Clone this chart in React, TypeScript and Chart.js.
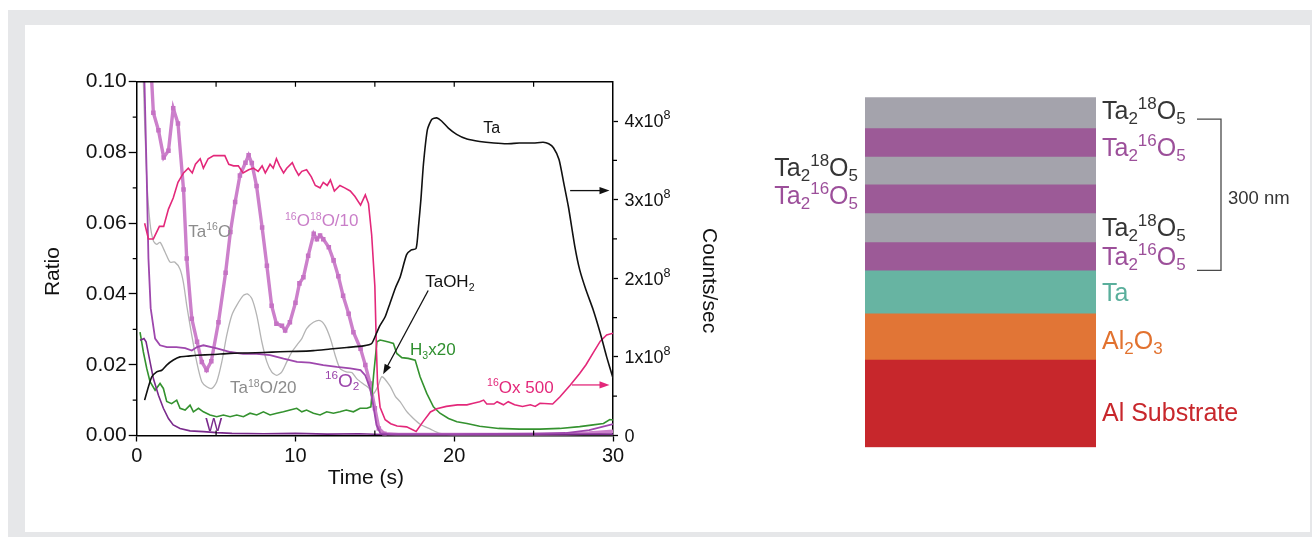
import { useEffect, useRef } from 'react';
import { Chart, registerables } from 'chart.js';

Chart.register(...registerables);

const FONT = "'Liberation Sans', Arial, Helvetica, sans-serif";

// ---------------- left chart data ----------------
// Ta (counts/sec, units of 1e8) - right axis
const taTime = [0.5, 0.74, 0.95, 1.26, 1.58, 1.89, 2.31, 2.73, 3.25, 3.78, 4.83, 5.88, 7, 7.98, 9.03, 10.08, 11.13, 12.18, 13.24, 14.29, 14.8, 15.1, 15.3, 15.65, 15.95, 16.3, 16.6, 17.0, 17.3, 17.6, 17.75, 17.9, 18.06, 18.31, 18.58, 18.9, 19.2, 19.63, 20.15, 20.8, 21.6, 22.5, 23.3, 24.1, 25.0, 25.6, 25.95, 26.25, 26.6, 26.9, 27.2, 27.6, 27.9, 28.3, 28.75, 29.2, 29.6, 30];
const taCounts = [0.45, 0.62, 0.745, 0.81, 0.83, 0.896, 0.96, 1.0, 1.01, 1.02, 1.03, 1.045, 1.05, 1.056, 1.065, 1.07, 1.08, 1.1, 1.12, 1.14, 1.17, 1.3, 1.39, 1.51, 1.68, 1.88, 2.02, 2.3, 2.36, 2.38, 2.66, 3.0, 3.45, 3.89, 4.02, 4.04, 4.0, 3.91, 3.83, 3.77, 3.74, 3.72, 3.71, 3.72, 3.72, 3.73, 3.71, 3.66, 3.51, 3.21, 2.9, 2.4, 2.11, 1.85, 1.6, 1.3, 1.0, 0.73];

// 16O x500 (counts/sec, units of 1e8) - right axis
const o16Time = [0.5, 0.74, 1.05, 1.43, 1.7, 2.0, 2.3, 2.6, 2.95, 3.25, 3.5, 3.7, 4.0, 4.2, 4.5, 4.85, 5.25, 5.55, 5.8, 6.1, 6.4, 6.7, 7.05, 7.35, 7.65, 7.9, 8.1, 8.4, 8.6, 8.8, 9.0, 9.25, 9.45, 9.8, 10.0, 10.2, 10.4, 10.7, 11.0, 11.25, 11.55, 11.75, 12.0, 12.2, 12.45, 12.8, 13.1, 13.45, 13.75, 14.1, 14.4, 14.6, 14.8, 15.0, 15.1, 15.17, 15.33, 15.65, 16.0, 16.4, 17.0, 17.6, 18.05, 18.5, 18.9, 19.5, 20.2, 20.8, 21.2, 21.6, 21.85, 22.05, 22.5, 22.7, 23.1, 23.4, 23.8, 24.3, 24.8, 25.1, 25.4, 26.2, 26.65, 27.3, 27.9, 28.3, 28.75, 29.2, 29.6, 30];
const o16Counts = [2.7, 2.5, 2.5, 2.66, 2.66, 2.88, 3.02, 3.22, 3.34, 3.4, 3.34, 3.45, 3.52, 3.4, 3.52, 3.56, 3.56, 3.56, 3.45, 3.43, 3.43, 3.34, 3.38, 3.4, 3.36, 3.43, 3.34, 3.45, 3.4, 3.52, 3.43, 3.34, 3.4, 3.47, 3.38, 3.31, 3.36, 3.38, 3.29, 3.18, 3.15, 3.22, 3.18, 3.25, 3.11, 3.18, 3.15, 3.11, 3.04, 2.93, 3.06, 2.95, 2.55, 1.9, 1.1, 0.66, 0.36, 0.2, 0.15, 0.12, 0.11, 0.05, 0.18, 0.3, 0.34, 0.37, 0.39, 0.39, 0.41, 0.43, 0.45, 0.4, 0.4, 0.43, 0.39, 0.43, 0.39, 0.37, 0.39, 0.37, 0.41, 0.4, 0.49, 0.64, 0.79, 0.9, 1.05, 1.2, 1.28, 1.3];

// 16O18O/10 (ratio) - left axis
const o1618Time = [0.5, 0.9, 1.05, 1.37, 1.7, 2.0, 2.3, 2.6, 2.95, 3.15, 3.47, 3.8, 4.1, 4.4, 4.7, 5.15, 5.6, 5.9, 6.2, 6.5, 6.85, 7.05, 7.25, 7.55, 7.9, 8.2, 8.5, 8.8, 9.15, 9.35, 9.65, 10.0, 10.25, 10.5, 10.8, 11.15, 11.35, 11.55, 11.75, 12.1, 12.4, 12.7, 13.0, 13.35, 13.65, 14.1, 14.4, 14.7, 15.0, 15.25, 15.6, 16.5, 20, 24, 27, 28.5, 30];
const o1618Ratio = [0.118, 0.104, 0.0912, 0.0863, 0.0786, 0.0805, 0.0925, 0.0882, 0.0695, 0.05, 0.033, 0.0265, 0.0208, 0.0185, 0.021, 0.032, 0.046, 0.0575, 0.066, 0.0735, 0.0771, 0.0792, 0.077, 0.0705, 0.0588, 0.048, 0.0367, 0.0316, 0.031, 0.0297, 0.032, 0.0375, 0.043, 0.0447, 0.0508, 0.057, 0.0555, 0.0565, 0.0555, 0.0532, 0.0495, 0.045, 0.0395, 0.0344, 0.0292, 0.0245, 0.0199, 0.0147, 0.0077, 0.002, 0.0005, 0.0003, 0.0003, 0.0003, 0.0004, 0.0007, 0.0012];

// 16O2 (ratio) - left axis
const o2Time = [0.35, 0.5, 0.63, 0.74, 0.88, 1.16, 1.47, 1.9, 2.5, 3.05, 3.47, 3.8, 4.2, 5.05, 5.9, 6.7, 7.55, 8.4, 9.25, 10.1, 10.9, 11.75, 12.6, 13.45, 14.1, 14.4, 14.7, 14.9, 15.1, 15.35, 16, 20, 25, 27, 28.5, 30];
const o2Ratio = [0.12, 0.098, 0.0734, 0.05, 0.036, 0.0274, 0.0255, 0.025, 0.025, 0.0247, 0.024, 0.025, 0.0255, 0.0246, 0.0236, 0.0231, 0.0231, 0.0227, 0.0217, 0.0208, 0.0206, 0.0199, 0.0194, 0.019, 0.0185, 0.017, 0.0133, 0.0086, 0.003, 0.0006, 0.0004, 0.0004, 0.0005, 0.0007, 0.0015, 0.0032];

// Ta18O/20 (ratio) - left axis
const ta18Time = [0.3, 0.42, 0.63, 0.84, 1.05, 1.26, 1.47, 1.79, 2.1, 2.4, 2.73, 2.94, 3.15, 3.47, 3.78, 4.1, 4.41, 4.73, 5.04, 5.36, 5.67, 5.99, 6.3, 6.72, 6.97, 7.25, 7.56, 7.88, 8.2, 8.5, 8.82, 9.14, 9.45, 9.77, 10.08, 10.4, 10.7, 11.13, 11.55, 11.87, 12.2, 12.5, 12.8, 13.2, 13.55, 13.87, 14.3, 14.6, 14.9, 15.2, 15.45, 15.95, 16.3, 16.6, 17.0, 17.43, 17.85, 18.5, 19.1, 20, 30];
const ta18Ratio = [0.12, 0.1, 0.073, 0.06, 0.055, 0.054, 0.0546, 0.0518, 0.049, 0.049, 0.047, 0.0433, 0.0368, 0.0283, 0.0208, 0.0152, 0.0138, 0.0133, 0.0152, 0.0208, 0.0283, 0.034, 0.0368, 0.0396, 0.04, 0.0387, 0.034, 0.0265, 0.0208, 0.018, 0.017, 0.018, 0.0208, 0.0236, 0.0255, 0.0274, 0.0302, 0.032, 0.0325, 0.031, 0.0274, 0.0227, 0.019, 0.018, 0.0178, 0.016, 0.0145, 0.0135, 0.0118, 0.014, 0.0166, 0.014, 0.011, 0.0095, 0.0068, 0.0048, 0.0032, 0.0018, 0.0006, 0.0002, 0.0002];

// H3 x20 (ratio) - left axis
const h3Time = [0.21, 0.42, 0.63, 0.84, 1.16, 1.47, 1.68, 1.89, 2.2, 2.52, 2.73, 3.05, 3.36, 3.57, 3.89, 4.2, 4.62, 5.04, 5.46, 5.88, 6.3, 6.72, 7.14, 7.56, 7.98, 8.4, 8.82, 9.24, 9.66, 10.08, 10.4, 10.7, 11.13, 11.55, 11.97, 12.39, 12.8, 13.2, 13.65, 14.07, 14.5, 14.75, 14.92, 15.13, 15.33, 15.54, 15.86, 16.17, 16.38, 16.7, 17.1, 17.54, 17.85, 18.27, 18.69, 19.1, 19.64, 20.17, 20.8, 21.6, 22.8, 24.1, 25.4, 26.65, 27.9, 28.75, 29.4, 29.8, 30];
const h3Ratio = [0.0292, 0.0236, 0.019, 0.0152, 0.0128, 0.0147, 0.0133, 0.0096, 0.009, 0.01, 0.0077, 0.0072, 0.0086, 0.0067, 0.0077, 0.0067, 0.0058, 0.0053, 0.0058, 0.0053, 0.0058, 0.0053, 0.0063, 0.0058, 0.0067, 0.0058, 0.0063, 0.0067, 0.0072, 0.0077, 0.0067, 0.0072, 0.0063, 0.0058, 0.0067, 0.0063, 0.0067, 0.0072, 0.0067, 0.0077, 0.0077, 0.0081, 0.017, 0.0265, 0.027, 0.0268, 0.0264, 0.026, 0.0232, 0.022, 0.0218, 0.0213, 0.0166, 0.0119, 0.0081, 0.0063, 0.0048, 0.0039, 0.0034, 0.0026, 0.002, 0.0018, 0.0018, 0.002, 0.0025, 0.003, 0.0034, 0.0045, 0.0044];

// W (ratio) - left axis
const wTime = [0.21, 0.46, 0.59, 0.84, 1.05, 1.37, 1.68, 2.0, 2.3, 2.73, 3.36, 4.2, 5.04, 6, 8, 10, 12, 14, 15.5, 20, 25, 30];
const wRatio = [0.0269, 0.0274, 0.0265, 0.0208, 0.0161, 0.0114, 0.0077, 0.0048, 0.003, 0.002, 0.0013, 0.0011, 0.0008, 0.0006, 0.0005, 0.0006, 0.0004, 0.0005, 0.0003, 0.0002, 0.0003, 0.0004];

// axis ticks
const xMajorTicks = [0, 10, 20, 30];
const xMinorTicks = [5, 15, 25];
const xTopTicks = [5, 10, 15, 20, 25];
const yMajorTicks = [0, 0.02, 0.04, 0.06, 0.08, 0.1];
const yMinorTicks = [0.01, 0.03, 0.05, 0.07, 0.09];
const y2MajorTicks = [0, 1, 2, 3, 4];
const y2MinorTicks = [0.5, 1.5, 2.5, 3.5];

// ---------------- right diagram data ----------------
const layerNames = ['Ta2 18O5', 'Ta2 16O5', 'Ta2 18O5', 'Ta2 16O5', 'Ta2 18O5', 'Ta2 16O5', 'Ta', 'Al2O3', 'Al Substrate'];
const layerThickness = [53, 49, 48, 50, 50, 49, 74, 80, 152];
const layerColors = ['#a4a3ac', '#9c5a97', '#a4a3ac', '#9c5a97', '#a4a3ac', '#9c5a97', '#67b4a2', '#e17536', '#c7272c'];

const C_DARK = '#353535';
const C_PURPLE = '#9c4f9a';

// ---------------- rich text helper ----------------
type Seg = { text: string; pos: '' | 'sup' | 'sub' };
function parseRich(s: string): Seg[] {
  const out: Seg[] = [];
  const re = /\{([\^_])([^}]*)\}/g;
  let last = 0;
  let m: RegExpExecArray | null;
  while ((m = re.exec(s))) {
    if (m.index > last) out.push({ text: s.slice(last, m.index), pos: '' });
    out.push({ text: m[2], pos: m[1] === '^' ? 'sup' : 'sub' });
    last = re.lastIndex;
  }
  if (last < s.length) out.push({ text: s.slice(last), pos: '' });
  return out;
}
type RichOpts = { align?: 'left' | 'right' | 'center'; small?: number; rise?: number; drop?: number; baseline?: CanvasTextBaseline };
function drawRich(ctx: CanvasRenderingContext2D, str: string, x: number, y: number, size: number, color: string, o: RichOpts = {}) {
  const segs = parseRich(str);
  const small = size * (o.small ?? 0.62);
  const rise = size * (o.rise ?? 0.4);
  const drop = size * (o.drop ?? 0.2);
  const widths = segs.map((sg) => {
    ctx.font = `${sg.pos ? small : size}px ${FONT}`;
    return ctx.measureText(sg.text).width;
  });
  const total = widths.reduce((a, b) => a + b, 0);
  const align = o.align ?? 'left';
  let cx = align === 'right' ? x - total : align === 'center' ? x - total / 2 : x;
  ctx.fillStyle = color;
  ctx.textAlign = 'left';
  ctx.textBaseline = o.baseline ?? 'alphabetic';
  segs.forEach((sg, i) => {
    const dy = sg.pos === 'sup' ? -rise : sg.pos === 'sub' ? drop : 0;
    ctx.font = `${sg.pos ? small : size}px ${FONT}`;
    ctx.fillText(sg.text, cx, y + dy);
    cx += widths[i];
  });
}

// ---------------- annotations (left chart) ----------------
const notes = [
  { text: 'Ta', t: 21.82, v: 3.853, axis: 'y2', color: '#111', size: 16 },
  { text: 'Ta{^16}O', t: 3.25, v: 0.0562, axis: 'y', color: '#8c8c8c', size: 17 },
  { text: '{^16}O{^18}O/10', t: 9.34, v: 0.0591, axis: 'y', color: '#c97ec8', size: 17 },
  { text: 'Ta{^18}O/20', t: 5.88, v: 0.0119, axis: 'y', color: '#8c8c8c', size: 17 },
  { text: '{^16}O{_2}', t: 11.86, v: 0.0138, axis: 'y', color: '#9b45aa', size: 19 },
  { text: 'W', t: 4.31, v: 0.00127, axis: 'y', color: '#7a2a8c', size: 18 },
  { text: 'TaOH{_2}', t: 18.17, v: 0.0419, axis: 'y', color: '#111', size: 17 },
  { text: 'H{_3}x20', t: 17.22, v: 0.0227, axis: 'y', color: '#2f8f2f', size: 17 },
  { text: '{^16}Ox 500', t: 22.07, v: 0.538, axis: 'y2', color: '#e3287a', size: 17 },
];
const arrows = [
  { from: [27.3, 3.115], to: [29.78, 3.115], axis: 'y2', color: '#111' },
  { from: [27.41, 0.643], to: [29.78, 0.643], axis: 'y2', color: '#e3287a' },
  { from: [18.36, 0.041], to: [15.52, 0.0173], axis: 'y', color: '#111' },
];

const pts = (t: number[], v: number[]) => t.map((x, i) => ({ x, y: v[i] }));

function drawArrow(ctx: CanvasRenderingContext2D, x1: number, y1: number, x2: number, y2: number, color: string) {
  const ang = Math.atan2(y2 - y1, x2 - x1);
  const L = 10, W = 3.6;
  ctx.strokeStyle = color;
  ctx.fillStyle = color;
  ctx.lineWidth = 1.3;
  ctx.beginPath();
  ctx.moveTo(x1, y1);
  ctx.lineTo(x2 - Math.cos(ang) * L * 0.8, y2 - Math.sin(ang) * L * 0.8);
  ctx.stroke();
  ctx.beginPath();
  ctx.moveTo(x2, y2);
  ctx.lineTo(x2 - Math.cos(ang) * L - Math.sin(ang) * W, y2 - Math.sin(ang) * L + Math.cos(ang) * W);
  ctx.lineTo(x2 - Math.cos(ang) * L + Math.sin(ang) * W, y2 - Math.sin(ang) * L - Math.cos(ang) * W);
  ctx.closePath();
  ctx.fill();
}

const framePlugin = {
  id: 'frameAndNotes',
  afterDraw(chart: any) {
    const { ctx, chartArea: a, scales } = chart;
    const x = scales.x, y = scales.y, y2 = scales.y2;
    ctx.save();
    ctx.strokeStyle = '#000';
    ctx.lineWidth = 1.5;
    ctx.beginPath();
    ctx.moveTo(a.left, a.top);
    ctx.lineTo(a.right, a.top);
    ctx.stroke();
    ctx.lineWidth = 1.2;
    ctx.beginPath();
    xMinorTicks.forEach((v) => {
      const px = x.getPixelForValue(v);
      ctx.moveTo(px, a.bottom);
      ctx.lineTo(px, a.bottom - 5);
    });
    xTopTicks.forEach((v) => {
      const px = x.getPixelForValue(v);
      ctx.moveTo(px, a.top);
      ctx.lineTo(px, a.top + 5);
    });
    yMinorTicks.forEach((v) => {
      const py = y.getPixelForValue(v);
      ctx.moveTo(a.left, py);
      ctx.lineTo(a.left - 4, py);
    });
    y2MinorTicks.forEach((v) => {
      const py = y2.getPixelForValue(v);
      ctx.moveTo(a.right, py);
      ctx.lineTo(a.right + 4, py);
    });
    ctx.stroke();

    // right-axis tick labels with superscript exponent
    y2.ticks.forEach((tk: any) => {
      const v = tk.value;
      const label = v === 0 ? '0' : `${v}x10{^8}`;
      drawRich(ctx, label, a.right + 11.5, y2.getPixelForValue(v) + 6.4, 18, '#111', { small: 0.7, rise: 0.45 });
    });

    // axis titles
    const midY = (a.top + a.bottom) / 2;
    const midX = (a.left + a.right) / 2;
    ctx.fillStyle = '#111';
    ctx.font = `21px ${FONT}`;
    ctx.textAlign = 'center';
    ctx.textBaseline = 'middle';
    ctx.fillText('Time (s)', midX - 9, a.bottom + 42.5);
    ctx.save();
    ctx.translate(a.left - 83.7, midY + 13);
    ctx.rotate(-Math.PI / 2);
    ctx.fillText('Ratio', 0, 0);
    ctx.restore();
    ctx.save();
    ctx.translate(a.right + 96, midY + 22);
    ctx.rotate(Math.PI / 2);
    ctx.fillText('Counts/sec', 0, 0);
    ctx.restore();

    notes.forEach((n) => {
      const sc = n.axis === 'y2' ? y2 : y;
      drawRich(ctx, n.text, x.getPixelForValue(n.t), sc.getPixelForValue(n.v), n.size, n.color);
    });
    arrows.forEach((ar) => {
      const sc = ar.axis === 'y2' ? y2 : y;
      drawArrow(ctx, x.getPixelForValue(ar.from[0]), sc.getPixelForValue(ar.from[1]), x.getPixelForValue(ar.to[0]), sc.getPixelForValue(ar.to[1]), ar.color);
    });
    ctx.restore();
  },
};

const diagramPlugin = {
  id: 'diagramLabels',
  afterDraw(chart: any) {
    const { ctx, chartArea: a, scales } = chart;
    const y = scales.y;
    const edges: number[] = [];
    let cum = 0;
    edges.push(y.getPixelForValue(0));
    layerThickness.forEach((th) => {
      cum += th;
      edges.push(y.getPixelForValue(cum));
    });
    const center = (i: number) => (edges[i] + edges[i + 1]) / 2;
    ctx.save();
    const ro = { small: 0.68, rise: 0.4, drop: 0.2 };
    const rightLabels = [
      { layer: 0, text: 'Ta{_2}{^18}O{_5}', color: C_DARK, dy: 6.5 },
      { layer: 1, text: 'Ta{_2}{^16}O{_5}', color: C_PURPLE, dy: 13.5 },
      { layer: 4, text: 'Ta{_2}{^18}O{_5}', color: C_DARK, dy: 8.9 },
      { layer: 5, text: 'Ta{_2}{^16}O{_5}', color: C_PURPLE, dy: 8.7 },
      { layer: 6, text: 'Ta', color: '#5aaf9c', dy: 9.7 },
      { layer: 7, text: 'Al{_2}O{_3}', color: '#e2722f', dy: 13 },
      { layer: 8, text: 'Al Substrate', color: '#c8272c', dy: 17.4 },
    ];
    rightLabels.forEach((l) => drawRich(ctx, l.text, a.right + 6, center(l.layer) + l.dy, 25, l.color, ro));
    const leftLabels = [
      { layer: 2, text: 'Ta{_2}{^18}O{_5}', color: C_DARK, dy: 6.2 },
      { layer: 3, text: 'Ta{_2}{^16}O{_5}', color: C_PURPLE, dy: 5.2 },
    ];
    leftLabels.forEach((l) => drawRich(ctx, l.text, a.left - 7, center(l.layer) + l.dy, 25, l.color, { ...ro, align: 'right' }));
    // 300 nm bracket
    const bx1 = a.right + 101, bx2 = a.right + 125;
    const bTop = center(0) + 6.5, bBot = edges[6];
    ctx.strokeStyle = '#4a4a4a';
    ctx.lineWidth = 1.3;
    ctx.beginPath();
    ctx.moveTo(bx1, bTop);
    ctx.lineTo(bx2, bTop);
    ctx.lineTo(bx2, bBot);
    ctx.lineTo(bx1, bBot);
    ctx.stroke();
    drawRich(ctx, '300 nm', bx2 + 7, (bTop + bBot) / 2 + 9, 18.5, C_DARK);
    ctx.restore();
  },
};

export default function App() {
  const leftRef = useRef<HTMLCanvasElement>(null);
  const rightRef = useRef<HTMLCanvasElement>(null);

  useEffect(() => {
    Chart.defaults.font.family = FONT;
    Chart.defaults.color = '#000';
    const line = (label: string, data: any[], color: string, width: number, axis: string, extra: any = {}) => ({
      label,
      data,
      borderColor: color,
      backgroundColor: color,
      borderWidth: width,
      pointRadius: 0,
      yAxisID: axis,
      tension: 0,
      ...extra,
    });
    const c1 = new Chart(leftRef.current as HTMLCanvasElement, {
      type: 'line',
      data: {
        datasets: [
          line('Ta', pts(taTime, taCounts), '#111111', 1.6, 'y2', { tension: 0.2 }),
          line('16O x500', pts(o16Time, o16Counts), '#e3287a', 1.6, 'y2'),
          line('16O2', pts(o2Time, o2Ratio), '#9e47ad', 1.8, 'y'),
          line('W', pts(wTime, wRatio), '#7a2a8c', 1.6, 'y'),
          line('H3 x20', pts(h3Time, h3Ratio), '#34922f', 1.6, 'y'),
          line('16O18O/10', pts(o1618Time, o1618Ratio), '#cc80cb', 3.4, 'y', {
            pointStyle: 'rect',
            pointRadius: (c: any) => (c.raw && c.raw.x <= 15.6 ? 3.2 : 0),
            pointBackgroundColor: '#c572c4',
            pointBorderWidth: 0,
          }),
          line('Ta18O/20', pts(ta18Time, ta18Ratio), '#b4b4b4', 1.3, 'y', { tension: 0.25 }),
        ],
      },
      options: {
        responsive: false,
        animation: false,
        events: [],
        layout: { padding: { top: 21.7, left: 0, right: 0, bottom: 0 } },
        plugins: { legend: { display: false }, tooltip: { enabled: false } },
        scales: {
          x: {
            type: 'linear',
            min: 0,
            max: 30,
            afterBuildTicks: (s: any) => { s.ticks = xMajorTicks.map((v) => ({ value: v })); },
            afterFit: (s: any) => { s.height = 64.5; },
            ticks: { font: { size: 20 }, color: '#111', padding: 3, maxRotation: 0 },
            grid: { display: true, drawOnChartArea: false, drawTicks: true, tickLength: 6, tickColor: '#000', tickWidth: 1.3 },
            border: { display: true, color: '#000', width: 1.5 },
            title: { display: false, text: 'Time (s)' },
          },
          y: {
            type: 'linear',
            position: 'left',
            min: 0,
            max: 0.1,
            afterBuildTicks: (s: any) => { s.ticks = yMajorTicks.map((v) => ({ value: v })); },
            afterFit: (s: any) => { s.width = 106.7; },
            ticks: { font: { size: 21 }, color: '#111', padding: 2, callback: (v: any) => Number(v).toFixed(2) },
            grid: { display: true, drawOnChartArea: false, drawTicks: true, tickLength: 8, tickColor: '#000', tickWidth: 1.3 },
            border: { display: true, color: '#000', width: 1.5 },
            title: { display: false, text: 'Ratio' },
          },
          y2: {
            type: 'linear',
            position: 'right',
            min: 0,
            max: 4.5,
            afterBuildTicks: (s: any) => { s.ticks = y2MajorTicks.map((v) => ({ value: v })); },
            afterFit: (s: any) => { s.width = 147; },
            ticks: { font: { size: 18 }, color: 'rgba(0,0,0,0)', padding: 6, callback: () => '' },
            grid: { display: true, drawOnChartArea: false, drawTicks: true, tickLength: 5, tickColor: '#000', tickWidth: 1.3 },
            border: { display: true, color: '#000', width: 1.5 },
            title: { display: false, text: 'Counts/sec' },
          },
        },
      },
      plugins: [framePlugin],
    } as any);

    const total = layerThickness.reduce((a, b) => a + b, 0);
    const c2 = new Chart(rightRef.current as HTMLCanvasElement, {
      type: 'bar',
      data: {
        labels: ['stack'],
        datasets: layerNames.map((n, i) => ({
          label: n,
          data: [layerThickness[i]],
          backgroundColor: layerColors[i],
          borderWidth: 0,
          barPercentage: 1,
          categoryPercentage: 1,
        })),
      },
      options: {
        responsive: false,
        animation: false,
        events: [],
        layout: { padding: { left: 125, right: 204, top: 17.3, bottom: 22.7 } },
        plugins: { legend: { display: false }, tooltip: { enabled: false } },
        scales: {
          x: { stacked: true, display: false },
          y: { stacked: true, display: false, reverse: true, min: 0, max: total },
        },
      },
      plugins: [diagramPlugin],
    } as any);

    return () => {
      c1.destroy();
      c2.destroy();
    };
  }, []);

  return (
    <div style={{ position: 'absolute', left: 0, top: 0, width: 1312, height: 537, background: '#ffffff', overflow: 'hidden' }}>
      <div style={{ position: 'absolute', left: 8, top: 10, width: 1304, height: 527, background: '#e6e7e9' }} />
      <div style={{ position: 'absolute', left: 25, top: 25, width: 1285, height: 507, background: '#ffffff' }} />
      <canvas ref={leftRef} width={730} height={440} style={{ position: 'absolute', left: 30, top: 60, width: 730, height: 440 }} />
      <canvas ref={rightRef} width={560} height={390} style={{ position: 'absolute', left: 740, top: 80, width: 560, height: 390 }} />
    </div>
  );
}
